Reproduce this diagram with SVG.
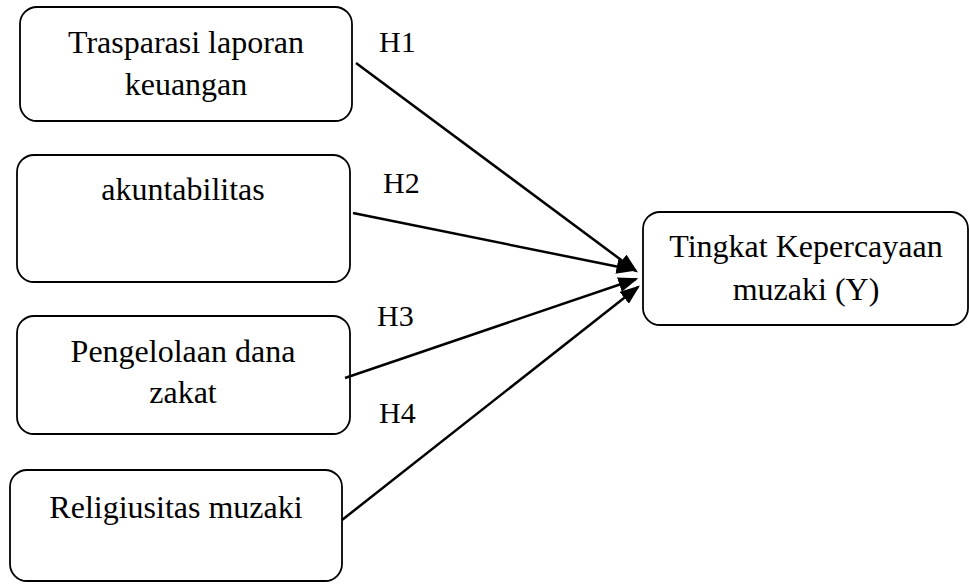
<svg xmlns="http://www.w3.org/2000/svg" width="969" height="584" viewBox="0 0 969 584">
<style>
.box{fill:#fff;stroke:#000;stroke-width:1.8}
.t{font-family:"Liberation Serif","Times New Roman",serif;font-size:32px;fill:#000;text-anchor:middle}
.h{font-family:"Liberation Serif","Times New Roman",serif;font-size:30px;fill:#000}
.c{stroke:#000;stroke-width:2.5;fill:none;marker-end:url(#ah)}
</style>
<defs>
<marker id="ah" markerWidth="8" markerHeight="6" refX="7" refY="3" orient="auto" markerUnits="strokeWidth">
<path d="M0,0 L8,3 L0,6 Z" fill="#000"/>
</marker>
</defs>
<rect width="969" height="584" fill="#fff"/>
<g id="n1"><rect class="box" x="20" y="7" width="332" height="114" rx="17"/><text class="t" x="186" y="53">Trasparasi laporan</text><text class="t" x="186" y="95">keuangan</text></g>
<g id="n2"><rect class="box" x="17" y="155" width="333" height="127" rx="17"/><text class="t" x="183" y="200">akuntabilitas</text></g>
<g id="n3"><rect class="box" x="17" y="316" width="333" height="118" rx="17"/><text class="t" x="183" y="362">Pengelolaan dana</text><text class="t" x="183" y="403">zakat</text></g>
<g id="n4"><rect class="box" x="10" y="470" width="332" height="111" rx="17"/><text class="t" x="176" y="518">Religiusitas muzaki</text></g>
<g id="ny"><rect class="box" x="643" y="212" width="325" height="113" rx="17"/><text class="t" x="806" y="257">Tingkat Kepercayaan</text><text class="t" x="806" y="300">muzaki (Y)</text></g>
<g id="connectors">
<line class="c" x1="356" y1="63" x2="636" y2="271"/>
<line class="c" x1="353" y1="213" x2="634" y2="270"/>
<line class="c" x1="345" y1="378" x2="636" y2="279"/>
<line class="c" x1="342" y1="520" x2="638" y2="287"/>
</g>
<g id="labels">
<text class="h" x="379" y="52">H1</text>
<text class="h" x="383" y="193">H2</text>
<text class="h" x="377" y="326">H3</text>
<text class="h" x="379" y="423">H4</text>
</g>
</svg>
